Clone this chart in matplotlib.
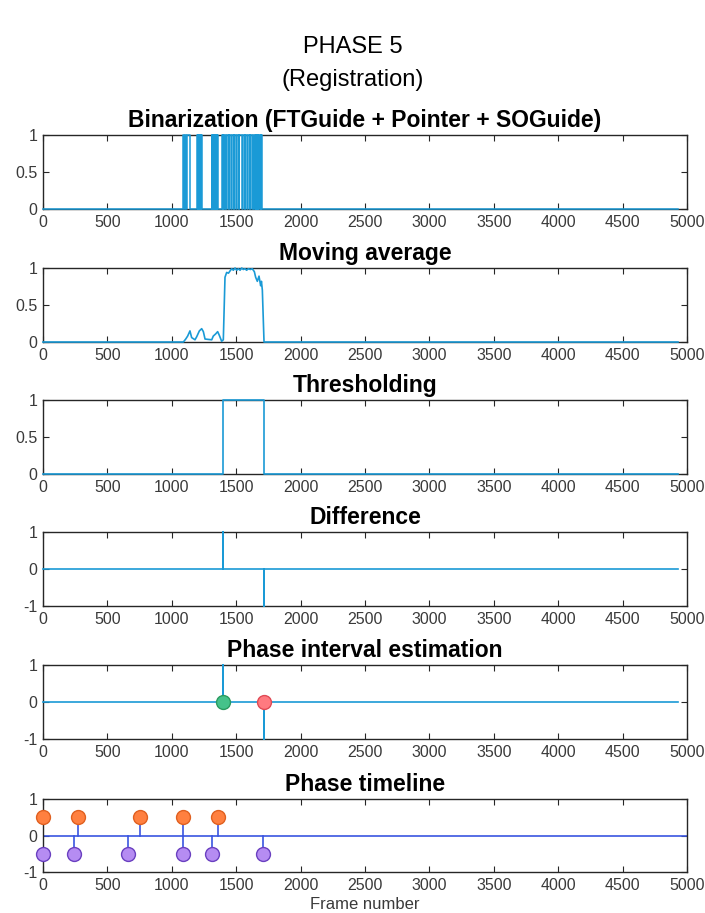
import numpy as np
import matplotlib
matplotlib.use("Agg")
import matplotlib.pyplot as plt

plt.rcParams['font.family'] = ['Liberation Sans', 'DejaVu Sans']
plt.rcParams['axes.unicode_minus'] = False

# ---- data ----
n_frames = 4930

# frames where the binarized signal is 1 (start, end)
bin_on = [(1090, 1098), (1102, 1113), (1117, 1141),
          (1196, 1201), (1204, 1209), (1212, 1218), (1221, 1227), (1230, 1236),
          (1310, 1315), (1318, 1324), (1327, 1333), (1336, 1342), (1345, 1351),
          (1354, 1362),
          (1390, 1396), (1400, 1406), (1410, 1424), (1428, 1442), (1446, 1463),
          (1467, 1481), (1485, 1502), (1506, 1520), (1524, 1546), (1550, 1566),
          (1570, 1587), (1591, 1605), (1609, 1623), (1627, 1640), (1643, 1650),
          (1653, 1660), (1663, 1670), (1673, 1680), (1683, 1690), (1693, 1700)]

# moving average knots
ma_frames = [0, 1090, 1108, 1123, 1141, 1154, 1180, 1193, 1214, 1232, 1245,
             1258, 1310, 1322, 1341, 1356, 1369, 1387, 1400, 1413, 1426, 1440,
             1452, 1465, 1478, 1491, 1504, 1517, 1530, 1543, 1555, 1568, 1581,
             1594, 1610, 1625, 1641, 1651, 1664, 1677, 1690, 1696, 1703, 1716,
             n_frames]
ma_values = [0, 0, 0.04, 0.08, 0.15, 0.06, 0.03, 0.07, 0.15, 0.18, 0.14,
             0.04, 0.03, 0.08, 0.11, 0.14, 0.09, 0.01, 0.03, 0.875, 0.94, 0.93,
             0.96, 0.99, 0.97, 1.0, 0.97, 0.99, 0.97, 1.0, 0.98, 0.99, 0.97,
             0.99, 0.98, 0.99, 0.95, 0.875, 0.82, 0.89, 0.76, 0.82, 0.7, 0.0,
             0]

# thresholded interval / difference events
thr_start, thr_end = 1400, 1712

# phase timeline events
orange_x = [0, 270, 750, 1090, 1360]
purple_x = [0, 240, 660, 1090, 1310, 1710]

line_c = '#1a9ad6'
stem_c = '#3a55e0'
edge_c = '#262626'

# panel layout in pixels (top, bottom)
W, H = 705, 913
ax_left, ax_right = 43, 687
panel_px = [(135, 209), (268, 342), (400, 474), (532, 606), (665, 739), (799, 872)]
titles = ['Binarization (FTGuide + Pointer + SOGuide)', 'Moving average',
          'Thresholding', 'Difference', 'Phase interval estimation',
          'Phase timeline']

fig = plt.figure(figsize=(W / 100, H / 100), dpi=100)
axes = []
for (top, bot), title in zip(panel_px, titles):
    ax = fig.add_axes([ax_left / W, 1 - bot / H, (ax_right - ax_left) / W, (bot - top) / H])
    ax.set_title(title, fontsize=16.5, fontweight='bold', pad=6)
    ax.set_xlim(0, 5000)
    ax.set_xticks(np.arange(0, 5001, 500))
    ax.tick_params(direction='in', top=True, right=True, length=4, width=0.8,
                   labelsize=11.5, colors=edge_c, labelcolor='#3a3a3a', pad=4)
    for s in ax.spines.values():
        s.set_color(edge_c)
        s.set_linewidth(1.0)
    axes.append(ax)

# 1. binarization as step signal
bx = [0]
by = [0]
for s, e in bin_on:
    bx += [s, s, e, e]
    by += [0, 1, 1, 0]
bx.append(n_frames)
by.append(0)
axes[0].plot(bx, by, color=line_c, lw=1.1, clip_on=False, zorder=3)

# 2. moving average
axes[1].plot(ma_frames, ma_values, color=line_c, lw=1.2, clip_on=False, zorder=3)

# 3. thresholding
axes[2].plot([0, thr_start, thr_start, thr_end, thr_end, n_frames],
             [0, 0, 1, 1, 0, 0], color=line_c, lw=1.2, clip_on=False, zorder=3)

# 4. difference
diff_x = [0, thr_start, thr_start, thr_start, thr_end, thr_end, thr_end, n_frames]
diff_y = [0, 0, 1, 0, 0, -1, 0, 0]
axes[3].plot(diff_x, diff_y, color=line_c, lw=1.2, clip_on=False, zorder=3)

# 5. phase interval estimation
axes[4].plot(diff_x, diff_y, color=line_c, lw=1.2, clip_on=False, zorder=3)
axes[4].plot([thr_start], [0], 'o', ms=10, mfc='#45c28a', mec='#2a9a60', mew=1, zorder=4)
axes[4].plot([thr_end], [0], 'o', ms=10, mfc='#ff7a80', mec='#e04a55', mew=1, zorder=4)

# 6. phase timeline
ax = axes[5]
ax.plot([0, 5000], [0, 0], color=stem_c, lw=1.2)
ax.plot([0, 0], [0, -0.5], color='#1fb0e0', lw=1.2)
for x in orange_x:
    if x > 0:
        ax.plot([x, x], [0, 0.5], color=stem_c, lw=1.2)
for x in purple_x:
    if x > 0:
        ax.plot([x, x], [0, -0.5], color=stem_c, lw=1.2)
ax.plot(orange_x, [0.5] * len(orange_x), 'o', ms=10, mfc='#ff8040', mec='#e06020', mew=1,
        clip_on=False, zorder=5)
ax.plot(purple_x, [-0.5] * len(purple_x), 'o', ms=10, mfc='#b58cf2', mec='#6a40c0', mew=1,
        clip_on=False, zorder=5)
ax.set_xlabel('Frame number', fontsize=12, color='#3a3a3a', labelpad=3)

for ax in axes[:3]:
    ax.set_ylim(0, 1)
    ax.set_yticks([0, 0.5, 1])
    ax.set_yticklabels(['0', '0.5', '1'])
for ax in axes[3:]:
    ax.set_ylim(-1, 1)
    ax.set_yticks([-1, 0, 1])

fig.text(0.5, 1 - 47 / H, 'PHASE 5', ha='center', va='center', fontsize=17)
fig.text(0.5, 1 - 80 / H, '(Registration)', ha='center', va='center', fontsize=17)

fig.savefig('out.png', dpi=100)
